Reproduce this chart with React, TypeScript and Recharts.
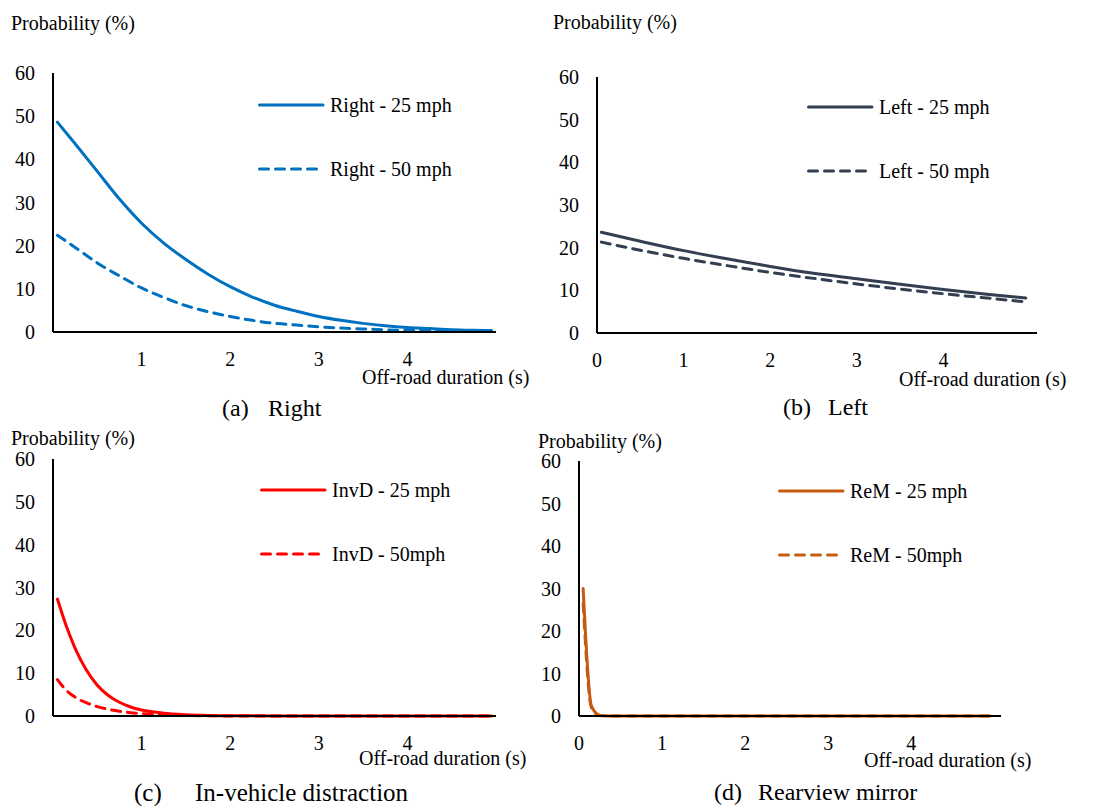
import { LineChart, Line, XAxis, YAxis, Legend } from 'recharts';

const FONT = '"Liberation Serif", Tinos, "Times New Roman", Times, "Nimbus Roman", "DejaVu Serif", serif';

// (a) Right
const rightX = [0.05, 0.25, 0.5, 0.75, 1, 1.25, 1.5, 1.75, 2, 2.25, 2.5, 2.75, 3, 3.25, 3.5, 3.75, 4, 4.25, 4.5, 4.75, 4.95];
const right25 = [48.6, 43.6, 37.2, 30.8, 25.2, 20.6, 16.8, 13.4, 10.5, 8.1, 6.2, 4.8, 3.6, 2.7, 2, 1.45, 1.05, 0.8, 0.55, 0.42, 0.35];
const right50 = [22.4, 19.6, 16, 13, 10.2, 8, 6.1, 4.7, 3.6, 2.7, 2, 1.6, 1.2, 0.9, 0.7, 0.5, 0.38, 0.3, 0.22, 0.16, 0.12];

// (b) Left
const leftX = [0.05, 0.5, 1, 1.5, 2, 2.5, 3, 3.5, 4, 4.5, 4.95];
const left25 = [23.6, 21.5, 19.3, 17.4, 15.6, 14, 12.7, 11.4, 10.2, 9.1, 8.2];
const left50 = [21.3, 19.4, 17.5, 15.8, 14.2, 12.8, 11.5, 10.3, 9.2, 8.2, 7.3];

// (c) In-vehicle distraction
const invdX = [0.05, 0.15, 0.25, 0.375, 0.5, 0.625, 0.75, 0.875, 1, 1.25, 1.5, 1.75, 2, 2.5, 3, 3.5, 4, 4.5, 4.95];
const invd25 = [27.3, 21, 15.8, 10.8, 7.2, 4.8, 3.2, 2.1, 1.4, 0.65, 0.3, 0.13, 0.05, 0.02, 0, 0, 0, 0, 0];
const invd50 = [8.5, 6, 4.4, 3.1, 2.2, 1.55, 1.1, 0.78, 0.55, 0.27, 0.12, 0.05, 0.02, 0, 0, 0, 0, 0, 0];

// (d) Rearview mirror
const remX = [0.05, 0.15, 0.25, 0.35, 0.5, 1, 2, 3, 4, 4.95];
const rem25 = [30, 2.3, 0.15, 0.02, 0, 0, 0, 0, 0, 0];
const rem50 = [26.5, 2, 0.1, 0.01, 0, 0, 0, 0, 0, 0];

const yTicks = [0, 10, 20, 30, 40, 50, 60];
const xTicksFrom1 = [1, 2, 3, 4];
const xTicksFrom0 = [0, 1, 2, 3, 4];

const toRows = (xs: number[], a: number[], b: number[]) =>
  xs.map((x, i) => ({ x, s25: a[i], s50: b[i] }));

const tickStyle = { fill: '#000', fontSize: 20, fontFamily: FONT };

const renderLegend = (props: any) => {
  const { payload } = props;
  return (
    <div>
      {(payload || []).map((entry: any, i: number) => {
        const dash = entry.payload?.strokeDasharray;
        return (
          <div key={i} style={{ display: 'flex', alignItems: 'center', height: 24, marginBottom: i === 0 ? 40 : 0 }}>
            <svg width={72} height={24} style={{ flex: 'none' }}>
              <line x1={1.5} y1={12} x2={65} y2={12} stroke={entry.color} strokeWidth={3}
                strokeDasharray={dash} strokeLinecap="round" />
            </svg>
            <span style={{ fontFamily: FONT, fontSize: 20, color: '#000', whiteSpace: 'nowrap' }}>{entry.value}</span>
          </div>
        );
      })}
    </div>
  );
};

function Panel({ left, top, width, height, margin, data, color, names, xTicks, xMax, legendLeft, legendTop }: any) {
  return (
    <div style={{ position: 'absolute', left, top }}>
      <LineChart width={width} height={height} data={data} margin={margin}>
        <XAxis type="number" dataKey="x" domain={[0, xMax]} ticks={xTicks} interval={0}
          tickLine={false} axisLine={{ stroke: '#000', strokeWidth: 2 }} tick={tickStyle}
          tickMargin={14} height={30} />
        <YAxis type="number" domain={[0, 60]} ticks={yTicks} interval={0}
          tickLine={false} axisLine={{ stroke: '#000', strokeWidth: 2 }} tick={tickStyle}
          tickMargin={12} width={40} />
        <Legend layout="vertical" align="center" verticalAlign="middle" content={renderLegend}
          wrapperStyle={{ left: legendLeft, top: legendTop, width: 'auto' }} />
        <Line type="monotone" dataKey="s25" name={names[0]} stroke={color} strokeWidth={3}
          strokeLinecap="round" dot={false} activeDot={false} isAnimationActive={false} />
        <Line type="monotone" dataKey="s50" name={names[1]} stroke={color} strokeWidth={3}
          strokeDasharray="9 7" strokeLinecap="round" dot={false} activeDot={false} isAnimationActive={false} />
      </LineChart>
    </div>
  );
}

function Txt({ left, cy, size = 20, children }: any) {
  return (
    <div style={{ position: 'absolute', left, top: cy - size / 2, fontFamily: FONT, fontSize: size,
      lineHeight: `${size}px`, color: '#000', whiteSpace: 'nowrap' }}>
      {children}
    </div>
  );
}

export default function App() {
  return (
    <div style={{ position: 'absolute', left: 0, top: 0, width: 1104, height: 806, background: '#fff', overflow: 'hidden' }}>
      <Panel left={0} top={0} width={550} height={420} margin={{ top: 73, right: 54, bottom: 58, left: 13 }}
        data={toRows(rightX, right25, right50)} color="#0070C0" names={['Right - 25 mph', 'Right - 50 mph']}
        xTicks={xTicksFrom1} xMax={5} legendLeft={258} legendTop={93} />
      <Panel left={550} top={0} width={554} height={420} margin={{ top: 77, right: 67, bottom: 57, left: 7 }}
        data={toRows(leftX, left25, left50)} color="#333F50" names={['Left - 25 mph', 'Left - 50 mph']}
        xTicks={xTicksFrom0} xMax={5.08} legendLeft={257} legendTop={95} />
      <Panel left={0} top={420} width={550} height={386} margin={{ top: 39, right: 54, bottom: 60, left: 13 }}
        data={toRows(invdX, invd25, invd50)} color="#FF0000" names={['InvD - 25 mph', 'InvD - 50mph']}
        xTicks={xTicksFrom1} xMax={5} legendLeft={260} legendTop={58} />
      <Panel left={530} top={420} width={574} height={386} margin={{ top: 41, right: 103, bottom: 60, left: 9 }}
        data={toRows(remX, rem25, rem50)} color="#C55A11" names={['ReM - 25 mph', 'ReM - 50mph']}
        xTicks={xTicksFrom0} xMax={5.08} legendLeft={248} legendTop={59} />

      <Txt left={11} cy={23}>Probability (%)</Txt>
      <Txt left={553} cy={22}>Probability (%)</Txt>
      <Txt left={11} cy={438}>Probability (%)</Txt>
      <Txt left={538} cy={441}>Probability (%)</Txt>

      <Txt left={362} cy={377}>Off-road duration (s)</Txt>
      <Txt left={899} cy={379}>Off-road duration (s)</Txt>
      <Txt left={359} cy={758}>Off-road duration (s)</Txt>
      <Txt left={864} cy={760}>Off-road duration (s)</Txt>

      <Txt left={222} cy={408} size={24}>(a)</Txt>
      <Txt left={268} cy={408} size={24}>Right</Txt>
      <Txt left={783} cy={407} size={24}>(b)</Txt>
      <Txt left={828} cy={407} size={24}>Left</Txt>
      <Txt left={134} cy={792} size={25}>(c)</Txt>
      <Txt left={195} cy={792} size={25}>In-vehicle distraction</Txt>
      <Txt left={714} cy={792} size={24}>(d)</Txt>
      <Txt left={758} cy={792} size={24}>Rearview mirror</Txt>
    </div>
  );
}
